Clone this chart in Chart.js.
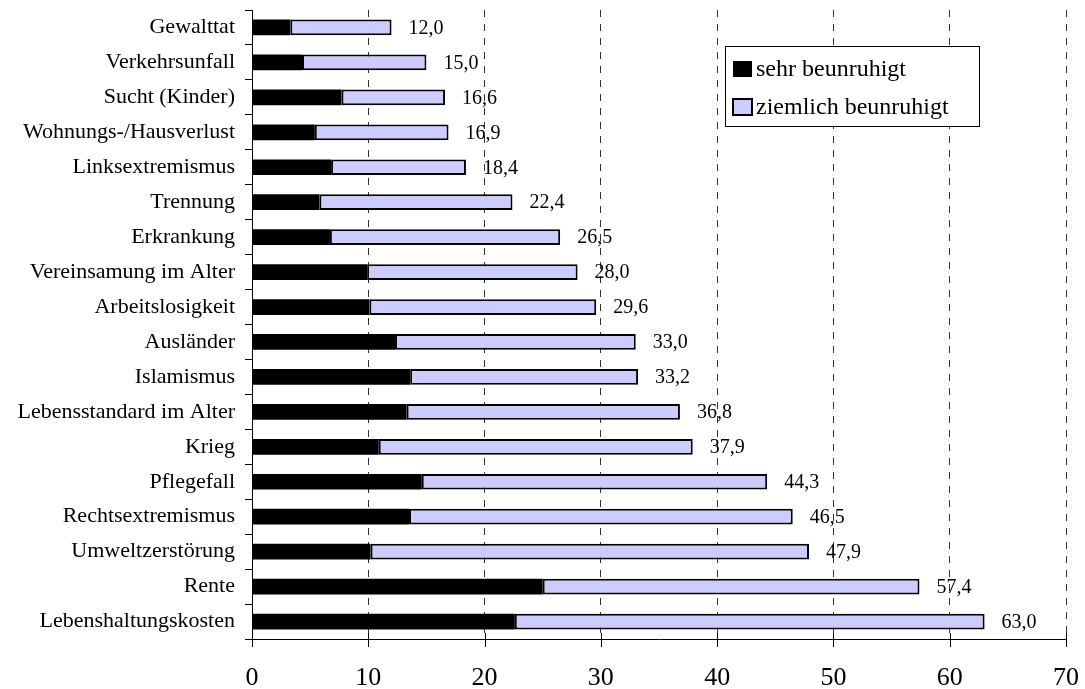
<!DOCTYPE html>
<html>
<head>
<meta charset="utf-8">
<script src="https://cdn.jsdelivr.net/npm/chart.js@4/dist/chart.umd.min.js"></script>
<style>
  html, body { margin: 0; padding: 0; background: #fff; }
  #wrap { width: 1085px; height: 689px; position: relative; }
</style>
</head>
<body>
<div id="wrap"><canvas id="chart"></canvas></div>
<script>
const categories = [
    "Gewalttat", "Verkehrsunfall", "Sucht (Kinder)", "Wohnungs-/Hausverlust",
    "Linksextremismus", "Trennung", "Erkrankung", "Vereinsamung im Alter",
    "Arbeitslosigkeit", "Ausländer", "Islamismus", "Lebensstandard im Alter",
    "Krieg", "Pflegefall", "Rechtsextremismus", "Umweltzerstörung",
    "Rente", "Lebenshaltungskosten"
];
const sehr = [3.3, 4.3, 7.7, 5.4, 6.8, 5.8, 6.7, 9.9, 10.1, 12.3, 13.6, 13.3, 10.9, 14.6, 13.5, 10.2, 25.0, 22.6];
const ziemlich = [8.7, 10.7, 8.9, 11.5, 11.6, 16.6, 19.8, 18.1, 19.5, 20.7, 19.6, 23.5, 27.0, 29.7, 33.0, 37.7, 32.4, 40.4];
const totals = [12.0, 15.0, 16.6, 16.9, 18.4, 22.4, 26.5, 28.0, 29.6, 33.0, 33.2, 36.8, 37.9, 44.3, 46.5, 47.9, 57.4, 63.0];
const xTicks = [0, 10, 20, 30, 40, 50, 60, 70];

const SERIF = '"Liberation Serif", "DejaVu Serif", serif';

// total labels to the right of each bar
const totalLabels = {
    id: 'totalLabels',
    afterDatasetsDraw(chart) {
        const ctx = chart.ctx;
        const x = chart.scales.x, y = chart.scales.y;
        ctx.save();
        ctx.font = '20px ' + SERIF;
        ctx.fillStyle = '#000';
        ctx.textBaseline = 'middle';
        ctx.textAlign = 'left';
        totals.forEach((t, i) => {
            ctx.fillText(t.toFixed(1).replace('.', ','), x.getPixelForValue(t) + 17, y.getPixelForValue(i) + 1);
        });
        ctx.restore();
    }
};

// legend box inside the plot
const boxLegend = {
    id: 'boxLegend',
    afterDraw(chart) {
        const ctx = chart.ctx;
        const left = 725, top = 46, w = 254, h = 80;
        ctx.save();
        ctx.fillStyle = '#fff';
        ctx.fillRect(left, top, w, h);
        ctx.strokeStyle = '#000';
        ctx.lineWidth = 1;
        ctx.strokeRect(left + 0.5, top + 0.5, w, h);
        ctx.font = '24px ' + SERIF;
        ctx.textBaseline = 'middle';
        chart.data.datasets.forEach((ds, i) => {
            const cy = top + 23 + i * 38;
            ctx.fillStyle = ds.backgroundColor;
            ctx.fillRect(left + 8, cy - 8, 19, 16);
            if (i > 0) {
                ctx.strokeStyle = '#000';
                ctx.lineWidth = 2;
                ctx.strokeRect(left + 8, cy - 8, 19, 16);
            }
            ctx.fillStyle = '#000';
            ctx.fillText(ds.label, left + 31, cy + 1);
        });
        ctx.restore();
    }
};

// x axis tick marks crossing the axis line
const crossTicks = {
    id: 'crossTicks',
    afterDraw(chart) {
        const ctx = chart.ctx;
        const x = chart.scales.x;
        const yb = chart.chartArea.bottom;
        ctx.save();
        ctx.strokeStyle = '#000';
        ctx.lineWidth = 1;
        xTicks.forEach(v => {
            const px = Math.round(x.getPixelForValue(v)) + 0.5;
            ctx.beginPath();
            ctx.moveTo(px, yb - 6);
            ctx.lineTo(px, yb + 8);
            ctx.stroke();
        });
        ctx.restore();
    }
};

document.addEventListener('DOMContentLoaded', () => {
    const ctx = document.getElementById('chart').getContext('2d');
    new Chart(ctx, {
        type: 'bar',
        data: {
            labels: categories,
            datasets: [{
                label: 'sehr beunruhigt',
                data: sehr,
                backgroundColor: '#000000',
                borderColor: '#000000',
                borderWidth: 0,
                categoryPercentage: 1,
                barPercentage: 0.45,
            }, {
                label: 'ziemlich beunruhigt',
                data: ziemlich,
                backgroundColor: '#CCCCFF',
                borderColor: '#000000',
                borderWidth: 2,
                borderSkipped: false,
                categoryPercentage: 1,
                barPercentage: 0.45,
            }]
        },
        options: {
            indexAxis: 'y',
            responsive: true,
            maintainAspectRatio: false,
            animation: false,
            layout: {
                padding: { left: 0, right: 19, top: 10, bottom: 0 },
            },
            plugins: {
                legend: { display: false },
                tooltip: { enabled: false },
            },
            scales: {
                x: {
                    stacked: true,
                    min: 0,
                    max: 70,
                    afterBuildTicks: s => { s.ticks = xTicks.map(v => ({ value: v })); },
                    afterFit: s => { s.height = 50; s.paddingLeft = 0; s.paddingRight = 0; },
                    border: { display: true, color: '#000', width: 1, dash: [7, 7] },
                    grid: {
                        color: c => (c.tick && c.tick.value === 0) ? 'rgba(0,0,0,0)' : '#333',
                        lineWidth: 1,
                        drawTicks: false,
                    },
                    ticks: {
                        color: '#000',
                        padding: 24,
                        maxRotation: 0,
                        font: { family: SERIF, size: 26 },
                    },
                },
                y: {
                    stacked: true,
                    afterFit: s => { s.width = 252; s.paddingTop = 0; s.paddingBottom = 0; },
                    border: { display: true, color: '#000', width: 1 },
                    grid: {
                        offset: true,
                        drawOnChartArea: false,
                        drawTicks: true,
                        tickLength: 7,
                        color: '#000',
                    },
                    ticks: {
                        color: '#000',
                        padding: 10,
                        autoSkip: false,
                        font: { family: SERIF, size: 22 },
                    },
                },
            },
        },
        plugins: [totalLabels, boxLegend, crossTicks],
    });
});
</script>
</body>
</html>
